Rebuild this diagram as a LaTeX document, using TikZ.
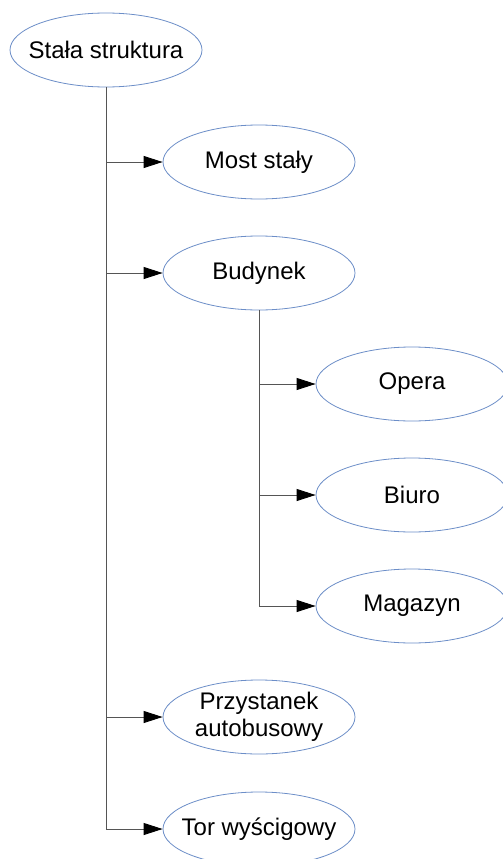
\documentclass[tikz,border=0pt]{standalone}
\usepackage{fontspec}
\setmainfont{Liberation Sans}
\usetikzlibrary{shapes.geometric,arrows.meta}
\definecolor{edgeblue}{RGB}{108,142,200}
\definecolor{wire}{RGB}{85,85,85}
\tikzset{
  item/.style={ellipse, draw=edgeblue, line width=0.8pt, fill=white,
    minimum width=192pt, minimum height=74pt,
    inner xsep=-16pt, inner ysep=-6pt,
    align=center, font=\fontsize{24}{27}\selectfont},
  trunk/.style={draw=wire, line width=0.9pt},
  branch/.style={draw=wire, line width=0.9pt,
    -{Triangle[length=19pt,width=12pt,color=black,fill=black]}}
}
\begin{document}
\begin{tikzpicture}[x=1pt,y=1pt]
  \useasboundingbox (0,0) rectangle (503,-859);
  % hierarchy nodes
  \node[item] (root) at (106,-50) {Stała struktura};
  \node[item] (most) at (259,-162) {Most stały};
  \node[item] (bud)  at (259,-273) {Budynek};
  \node[item] (opera) at (412,-384) {Opera};
  \node[item] (biuro) at (412,-495) {Biuro};
  \node[item] (mag)  at (412,-606) {Magazyn};
  \node[item] (przy) at (259,-717) {Przystanek\\autobusowy};
  \node[item] (tor)  at (259,-829) {Tor wyścigowy};
  % main trunk
  \draw[trunk] (root.south) -- (root.south |- tor.west);
  \foreach \n in {most,bud,przy,tor}
    \draw[branch] (root.south |- \n.west) -- (\n.west);
  % building subtree
  \draw[trunk] (bud.south) -- (bud.south |- mag.west);
  \foreach \n in {opera,biuro,mag}
    \draw[branch] (bud.south |- \n.west) -- (\n.west);
\end{tikzpicture}
\end{document}
